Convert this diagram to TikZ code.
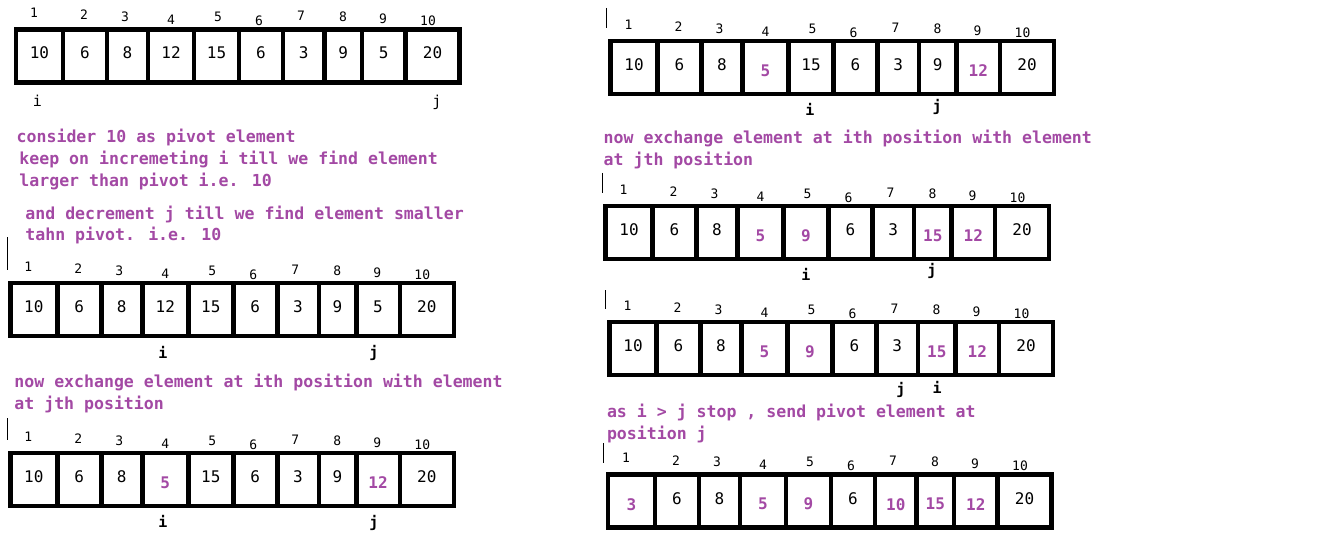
\documentclass[tikz,border=0pt]{standalone}
\usepackage{fontspec}
\newfontfamily\monof{DejaVu Sans Mono}
\usetikzlibrary{calc}
\definecolor{pur}{RGB}{163,73,164}

\tikzset{
	cellbox/.style={draw=black,line width=4.5pt,inner sep=0pt,minimum height=53pt},
	val/.style={font=\monof\fontsize{16}{19}\selectfont,inner sep=0pt,yshift=3pt},
	pval/.style={font=\monof\bfseries\fontsize{16}{19}\selectfont,text=pur,inner sep=0pt,yshift=-3pt},
	idx/.style={font=\monof\fontsize{13}{15}\selectfont,inner sep=0pt},
	ptr/.style={font=\monof\fontsize{15}{18}\selectfont,inner sep=0pt},
	bptr/.style={font=\monof\bfseries\fontsize{15}{18}\selectfont,inner sep=0pt},
	note/.style={font=\monof\bfseries\fontsize{16.55}{20}\selectfont,text=pur,anchor=base west,inner sep=0pt}
}

\def\bnd{0,47,91,132,178,223,267,308.5,346,389.5,443.5}
\def\idxdx{18,68,109,155,202,243,285,327,367,412}
\def\idxdy{-16.5,-14.5,-12.5,-9.5,-12.5,-8.5,-13.5,-12.5,-10.5,-8.5}

\begin{document}
\begin{tikzpicture}[x=1pt,y=-1pt]

\path[use as bounding box,fill=white] (0,0) rectangle (1321,548);

\foreach \nm/\x/\y/\vals in {
	L1/16/29.5/{10/val,6/val,8/val,12/val,15/val,6/val,3/val,9/val,5/val,20/val},
	L2/10.3/283/{10/val,6/val,8/val,12/val,15/val,6/val,3/val,9/val,5/val,20/val},
	L3/10.3/453/{10/val,6/val,8/val,5/pval,15/val,6/val,3/val,9/val,12/pval,20/val},
	R1/610.5/41/{10/val,6/val,8/val,5/pval,15/val,6/val,3/val,9/val,12/pval,20/val},
	R2/605.5/206/{10/val,6/val,8/val,5/pval,9/pval,6/val,3/val,15/pval,12/pval,20/val},
	R3/609.5/322/{10/val,6/val,8/val,5/pval,9/pval,6/val,3/val,15/pval,12/pval,20/val},
	R4/608/474.7/{3/pval,6/val,8/val,5/pval,9/pval,6/val,10/pval,15/pval,12/pval,20/val}}
{
	\foreach \v/\s [count=\k] in \vals
	{
		\pgfmathsetmacro\ca{{\bnd}[\k-1]}
		\pgfmathsetmacro\cb{{\bnd}[\k]}
		\pgfmathsetmacro\cw{\cb-\ca}
		\pgfmathsetmacro\dx{{\idxdx}[\k-1]}
		\pgfmathsetmacro\dy{{\idxdy}[\k-1]}
		\node[cellbox,minimum width=\cw pt](\nm-c\k) at ({\x+(\ca+\cb)/2},{\y+26.5}){};
		\node[\s](\nm-v\k) at (\nm-c\k.center){\v};
		\node[idx](\nm-n\k) at ({\x+\dx},{\y+\dy}){\k};
	}
}

%pointers i and j
\node[ptr](L1i) at (37.5,101){i};
\node[ptr](L1j) at (437,102){j};
\node[bptr](L2i) at (163,352){i};
\node[bptr](L2j) at (374,353){j};
\node[bptr](L3i) at (163,521.5){i};
\node[bptr](L3j) at (374,523){j};
\node[bptr](R1i) at (810,109){i};
\node[bptr](R1j) at (937,107){j};
\node[bptr](R2i) at (806,274){i};
\node[bptr](R2j) at (932,271){j};
\node[bptr](R3j) at (901,390){j};
\node[bptr](R3i) at (937,387){i};

%notes
\node[note](t1) at (16.5,142.3){consider 10 as pivot element};
\node[note](t2a) at (19.2,164.5){keep on incremeting i till we find element};
\node[note](t2b) at (19.2,186.7){larger than pivot i.e. 10};
\node[note](t3a) at (25.2,219){and decrement j till we find element smaller};
\node[note](t3b) at (25.2,240.7){tahn pivot. i.e. 10};
\node[note](t4a) at (14.2,387.3){now exchange element at ith position with element};
\node[note](t4b) at (14.2,409.3){at jth position};
\node[note](t5a) at (603.5,144){now exchange element at ith position with element};
\node[note](t5b) at (603.5,166){at jth position};
\node[note](t6a) at (606.8,417.3){as i > j stop , send pivot element at};
\node[note](t6b) at (606.8,439.3){position j};

%stray marks
\draw[line width=1pt](7,237)--(7,270);
\draw[line width=1pt](7,418)--(7,440);
\draw[line width=1pt](606,8)--(606,28);
\draw[line width=1pt](602,173)--(602,193);
\draw[line width=1pt](605,290)--(605,309);
\draw[line width=1pt](603,443)--(603,463);
\end{tikzpicture}
\end{document}
